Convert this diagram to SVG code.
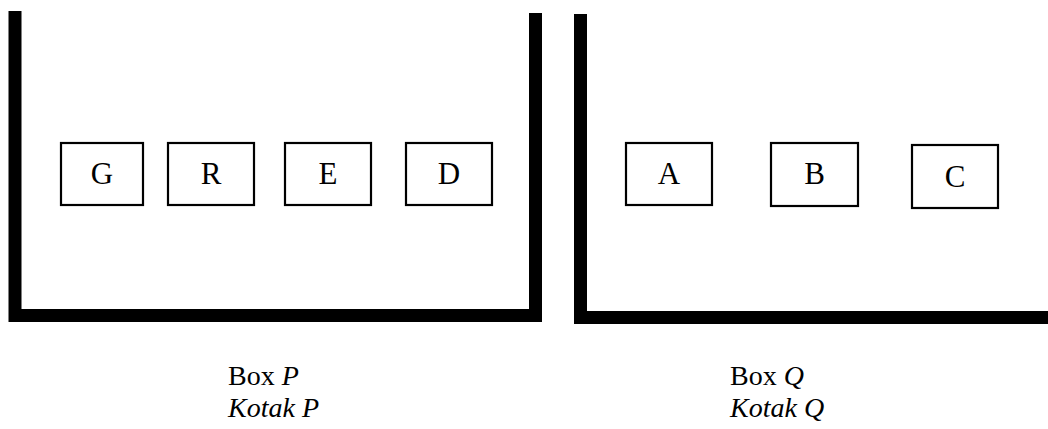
<svg xmlns="http://www.w3.org/2000/svg" width="1048" height="429" viewBox="0 0 1048 429">
  <style>
    .wall { fill: none; stroke: #000; stroke-width: 13; stroke-linejoin: miter; stroke-linecap: butt; }
    .card { fill: #fff; stroke: #000; stroke-width: 2.2; }
    .lbl { font-family: "Liberation Serif", "Times New Roman", serif; font-size: 31px; fill: #000; text-anchor: middle; }
    .cap { font-family: "Liberation Serif", "Times New Roman", serif; font-size: 28px; fill: #000; }
    .it { font-style: italic; }
  </style>
  <rect width="1048" height="429" fill="#fff"/>

  <!-- Box P: open-topped container -->
  <g id="boxP">
    <path class="wall" d="M15 11 V315.5 H535.5 V13"/>
    <text class="cap" x="228" y="385">Box <tspan class="it">P</tspan></text>
    <text class="cap it" x="228" y="417">Kotak P</text>
  </g>

  <!-- Box Q: open-topped container running to the right edge -->
  <g id="boxQ">
    <path class="wall" d="M580.5 14 V317.5 H1048"/>
    <text class="cap" x="730" y="385">Box <tspan class="it">Q</tspan></text>
    <text class="cap it" x="730" y="417">Kotak Q</text>
  </g>

  <!-- Cards inside Box P -->
  <g id="cardG"><rect class="card" x="61" y="143" width="82" height="62"/><text class="lbl" x="102" y="184">G</text></g>
  <g id="cardR"><rect class="card" x="168" y="143" width="86" height="62"/><text class="lbl" x="211" y="184">R</text></g>
  <g id="cardE"><rect class="card" x="285" y="143" width="86" height="62"/><text class="lbl" x="328" y="184">E</text></g>
  <g id="cardD"><rect class="card" x="406" y="143" width="86" height="62"/><text class="lbl" x="449" y="184">D</text></g>

  <!-- Cards inside Box Q -->
  <g id="cardA"><rect class="card" x="626" y="143" width="86" height="62"/><text class="lbl" x="669" y="184">A</text></g>
  <g id="cardB"><rect class="card" x="771" y="143" width="87" height="63"/><text class="lbl" x="814.5" y="184">B</text></g>
  <g id="cardC"><rect class="card" x="912" y="145" width="86" height="63"/><text class="lbl" x="955" y="187">C</text></g>

  <g id="connectors"></g>
</svg>
